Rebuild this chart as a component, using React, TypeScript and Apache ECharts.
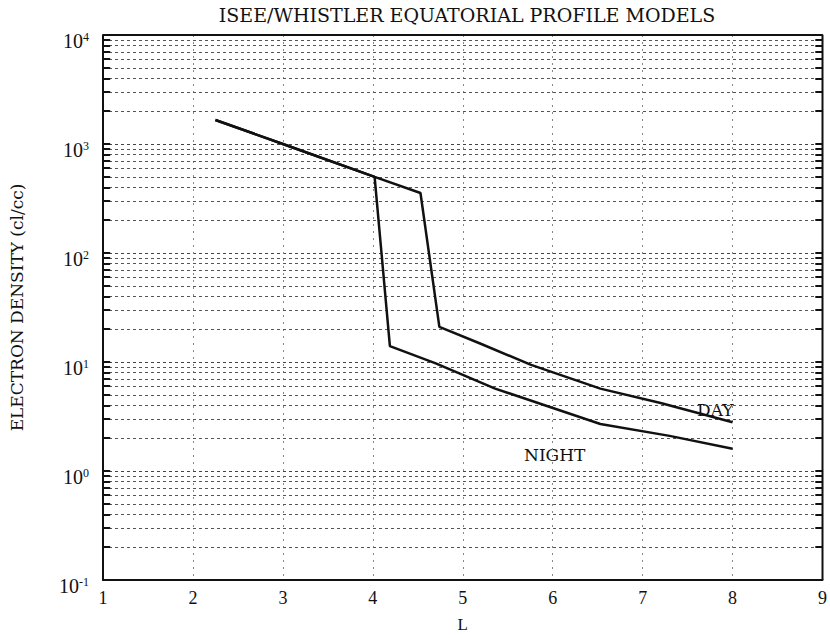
import React, { useEffect, useRef } from "react";
import * as echarts from "echarts";

// Equatorial electron density profiles (ISEE / whistler models)
const dayL = [2.25, 3.0, 4.02, 4.53, 4.74, 5.2, 5.76, 6.53, 7.2, 8.0];
const dayDensity = [1660, 1000, 500, 355, 21, 14.7, 9.4, 5.7, 4.2, 2.8];

const nightL = [2.25, 3.0, 4.02, 4.19, 4.7, 5.36, 6.53, 7.3, 8.0];
const nightDensity = [1660, 1000, 500, 14, 9.7, 5.7, 2.7, 2.1, 1.6];

const xTicks = [1, 2, 3, 4, 5, 6, 7, 8, 9];
const decades = [0.1, 1, 10, 100, 1000, 10000];
const minorMantissas = [2, 3, 4, 5, 6, 7, 8, 9];

const SERIF = "'Liberation Serif', 'DejaVu Serif', serif";
const WIDE_SERIF = "'DejaVu Serif', 'Liberation Serif', serif";

const minorLevels: number[] = [];
decades.slice(0, -1).forEach((d) => {
  minorMantissas.forEach((m) => minorLevels.push(+(m * d).toPrecision(3)));
});

export default function App() {
  const ref = useRef<HTMLDivElement>(null);

  useEffect(() => {
    if (!ref.current) return;
    const chart = echarts.init(ref.current, undefined, { renderer: "svg" });

    const toPairs = (xs: number[], ys: number[]) => xs.map((x, i) => [x, ys[i]]);

    // short solid ticks where each grid level meets the left and right frame
    const edgeTicks: any[] = [];
    [...minorLevels, 1, 10, 100, 1000].forEach((v) => {
      edgeTicks.push([{ coord: [1, v] }, { coord: [1.08, v] }]);
      edgeTicks.push([{ coord: [8.92, v] }, { coord: [9, v] }]);
    });

    chart.setOption({
      animation: false,
      backgroundColor: "#ffffff",
      title: {
        text: "ISEE/WHISTLER EQUATORIAL PROFILE MODELS",
        left: 462,
        top: 0,
        textAlign: "center",
        textStyle: {
          fontFamily: WIDE_SERIF,
          fontSize: 19,
          fontWeight: "normal",
          color: "#111",
        },
      },
      grid: { left: 96, right: 5, top: 35, bottom: 45 },
      xAxis: {
        type: "value",
        min: 1,
        max: 9,
        interval: 1,
        name: "L",
        nameLocation: "middle",
        nameGap: 36,
        nameTextStyle: { fontFamily: SERIF, fontSize: 17, color: "#111" },
        axisLine: { show: true, lineStyle: { color: "#111", width: 2 } },
        axisTick: { show: false },
        axisLabel: {
          fontFamily: SERIF,
          fontSize: 18,
          color: "#111",
          margin: 9,
          formatter: (v: number) => (xTicks.includes(v) ? String(v) : ""),
        },
        splitLine: {
          show: true,
          lineStyle: { color: "#888", type: [2, 5], width: 1 },
        },
      },
      yAxis: {
        type: "log",
        logBase: 10,
        min: 0.1,
        max: 10000,
        name: "ELECTRON DENSITY (cl/cc)",
        nameLocation: "middle",
        nameGap: 78,
        nameTextStyle: { fontFamily: WIDE_SERIF, fontSize: 17, color: "#111" },
        axisLine: { show: true, lineStyle: { color: "#111", width: 2 } },
        axisTick: { show: false },
        axisLabel: {
          margin: 14,
          padding: [12, 0, 0, 0],
          formatter: (v: number) => {
            const e = Math.round(Math.log10(v));
            return `{b|10}{e|${e}}`;
          },
          rich: {
            b: { fontFamily: SERIF, fontSize: 20, color: "#111" },
            e: {
              fontFamily: SERIF,
              fontSize: 12,
              color: "#111",
              verticalAlign: "top",
              padding: [0, 0, 8, 0],
            },
          },
        },
        splitLine: {
          show: true,
          lineStyle: { color: "#444", type: [3, 3], width: 1 },
        },
      },
      series: [
        {
          name: "DAY",
          type: "line",
          data: toPairs(dayL, dayDensity),
          symbol: "none",
          lineStyle: { color: "#111", width: 2.5 },
          z: 5,
          markLine: {
            silent: true,
            symbol: "none",
            label: { show: false },
            lineStyle: { color: "#555", type: [3, 3], width: 1 },
            data: minorLevels.map((v) => ({ yAxis: v })),
            z: 1,
          },
        },
        {
          name: "NIGHT",
          type: "line",
          data: toPairs(nightL, nightDensity),
          symbol: "none",
          lineStyle: { color: "#111", width: 2.5 },
          z: 5,
          markLine: {
            silent: true,
            symbol: "none",
            label: { show: false },
            lineStyle: { color: "#111", type: "solid", width: 2 },
            data: edgeTicks,
            z: 2,
          },
        },
        {
          // frame on the top and right edges of the plot
          type: "line",
          data: [
            [1, 10000],
            [9, 10000],
            [9, 0.1],
          ],
          symbol: "none",
          silent: true,
          lineStyle: { color: "#111", width: 2 },
          z: 4,
        },
      ],
      graphic: [
        {
          type: "text",
          left: 697,
          top: 401,
          style: { text: "DAY", font: `17px ${WIDE_SERIF}`, fill: "#111" },
        },
        {
          type: "text",
          left: 524,
          top: 446,
          style: { text: "NIGHT", font: `17px ${WIDE_SERIF}`, fill: "#111" },
        },
      ],
    });

    return () => chart.dispose();
  }, []);

  return (
    <div
      ref={ref}
      style={{ position: "fixed", left: 0, top: 0, width: 830, height: 638 }}
    />
  );
}
